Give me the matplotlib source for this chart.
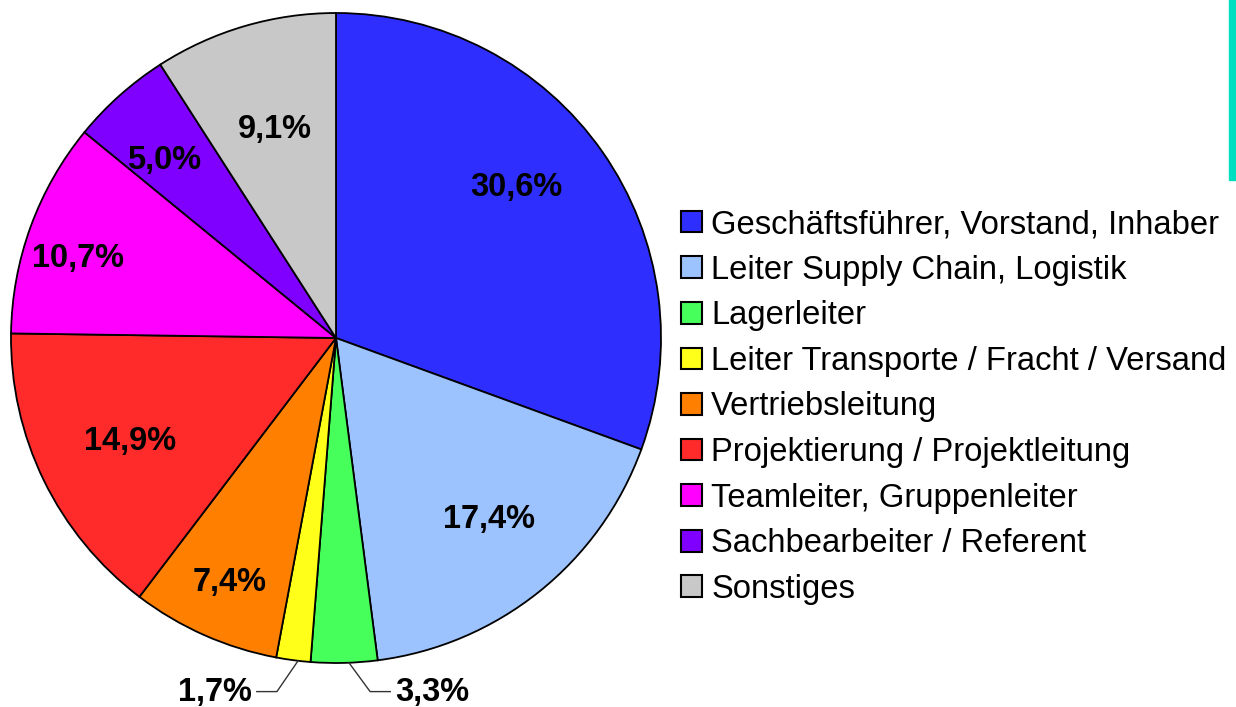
import numpy as np
import matplotlib.pyplot as plt

plt.rcParams['font.family'] = ['Liberation Sans', 'DejaVu Sans']

categories = ['Geschäftsführer, Vorstand, Inhaber', 'Leiter Supply Chain, Logistik',
              'Lagerleiter', 'Leiter Transporte / Fracht / Versand', 'Vertriebsleitung',
              'Projektierung / Projektleitung', 'Teamleiter, Gruppenleiter',
              'Sachbearbeiter / Referent', 'Sonstiges']
values = [30.6, 17.4, 3.3, 1.7, 7.4, 14.9, 10.7, 5.0, 9.1]
colors = ['#2e2eff', '#9dc3ff', '#47ff5a', '#ffff1a', '#ff8000',
          '#ff2a2a', '#ff00ff', '#8000ff', '#c8c8c8']

# label radius per wedge (None = outside label with leader line), angle tweak in degrees
label_r = [0.723, 0.73, None, None, 0.82, 0.71, 0.83, 0.76, 0.67]
label_dang = [5.0, 1.5, 0.85, 0.85, 0.3, 0.6, 2.8, 2.3, 0.0]

W, H = 1236, 707
fig = plt.figure(figsize=(W / 100, H / 100), dpi=100)
cx, cy, R = 336, 338, 325
ax = fig.add_axes([(cx - R) / W, (H - cy - R) / H, 2 * R / W, 2 * R / H])

wedges, _ = ax.pie(values, colors=colors, startangle=90, counterclock=False,
                   wedgeprops=dict(edgecolor='black', linewidth=1.3))
ax.set_xlim(-1, 1)
ax.set_ylim(-1, 1)
ax.axis('off')

def fmt(v):
    return f'{v:.1f}'.replace('.', ',') + '%'

for w, v, r, da in zip(wedges, values, label_r, label_dang):
    ang = np.deg2rad((w.theta1 + w.theta2) / 2 + da)
    if r is not None:
        ax.text(r * np.cos(ang), r * np.sin(ang), fmt(v), ha='center', va='center',
                fontsize=23.5, fontweight='bold')
    else:
        x0, y0 = np.cos(ang), np.sin(ang)
        side = 1 if x0 > 0 else -1
        ex, ey = x0 + side * 0.065, -1.088
        tx = ex + side * 0.062
        ax.plot([x0, ex, tx], [y0, ey, ey], color='#333333', lw=1, clip_on=False)
        ax.text(tx + side * 0.015, ey - 0.004, fmt(v), ha='left' if side > 0 else 'right',
                va='center', fontsize=23.5, fontweight='bold')

leg = fig.legend(wedges, categories, loc='center left',
                 bbox_to_anchor=(681 / W, 1 - 407 / H), frameon=False,
                 fontsize=23.6, handlelength=0.64, handleheight=0.64,
                 handletextpad=0.28, labelspacing=0.445, borderpad=0, borderaxespad=0)
for hnd in leg.legend_handles:
    hnd.set_linewidth(1.5)

# teal bar at top right
fig.patches.append(plt.Rectangle((1229 / W, 1 - 180 / H), 7 / W, 180 / H,
                                 transform=fig.transFigure, color='#00e0c0'))

fig.savefig('out.png', dpi=100, facecolor='white')
